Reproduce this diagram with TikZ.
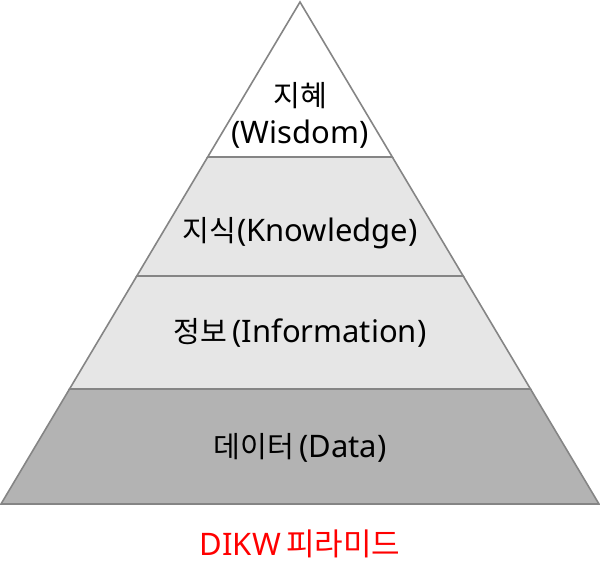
\documentclass[tikz,border=0pt]{standalone}
\usepackage{fontspec}
\setmainfont{Noto Sans}
\newfontfamily\kr{Noto Sans CJK KR}[Scale=0.94]

\definecolor{edgegray}{HTML}{858585}
\definecolor{layerlight}{HTML}{E6E6E6}
\definecolor{layerdark}{HTML}{B3B3B3}

\begin{document}
\begin{tikzpicture}[
    x=1pt, y=-1pt,
    font=\fontsize{31}{37}\selectfont,
    layer/.style={draw=edgegray, line width=1.6pt, line join=miter},
    label/.style={inner sep=0pt, align=center, anchor=base}
]
\useasboundingbox (0,0) rectangle (600,566);

%% vrchol (300,2), základňa (1,504)--(599,504)
\def\slope{0.5956}

%% Vrstvy pyramídy: horná hrana / dolná hrana / výplň
\foreach \ytop/\ybot/\col in {
    2/157/white,
    157/276/layerlight,
    276/389/layerlight,
    389/504/layerdark%
} {
    \pgfmathsetmacro\xt{\slope*(\ytop-2)}
    \pgfmathsetmacro\xb{\slope*(\ybot-2)}
    \filldraw[layer, fill=\col] (300-\xt,\ytop) -- (300+\xt,\ytop)
        -- (300+\xb,\ybot) -- (300-\xb,\ybot) -- cycle;
}

%% Popisy vrstiev (súradnica = účiaria posledného riadku)
\node[label] (wisdom) at (300,143) {{\kr 지혜}\\(Wisdom)};
\node[label] (knowledge) at (300,241) {{\kr 지식}\kern1pt(Knowledge)};
\node[label] (information) at (300,342) {{\kr 정보}\,(Information)};
\node[label] (data) at (300,457) {{\kr 데이터}\,(Data)};

%% Názov
\node[label, text=red] (title) at (300,555)
    {DIKW\kern5pt{\kr\fontsize{33}{37}\selectfont 피라미드}};

\end{tikzpicture}
\end{document}
